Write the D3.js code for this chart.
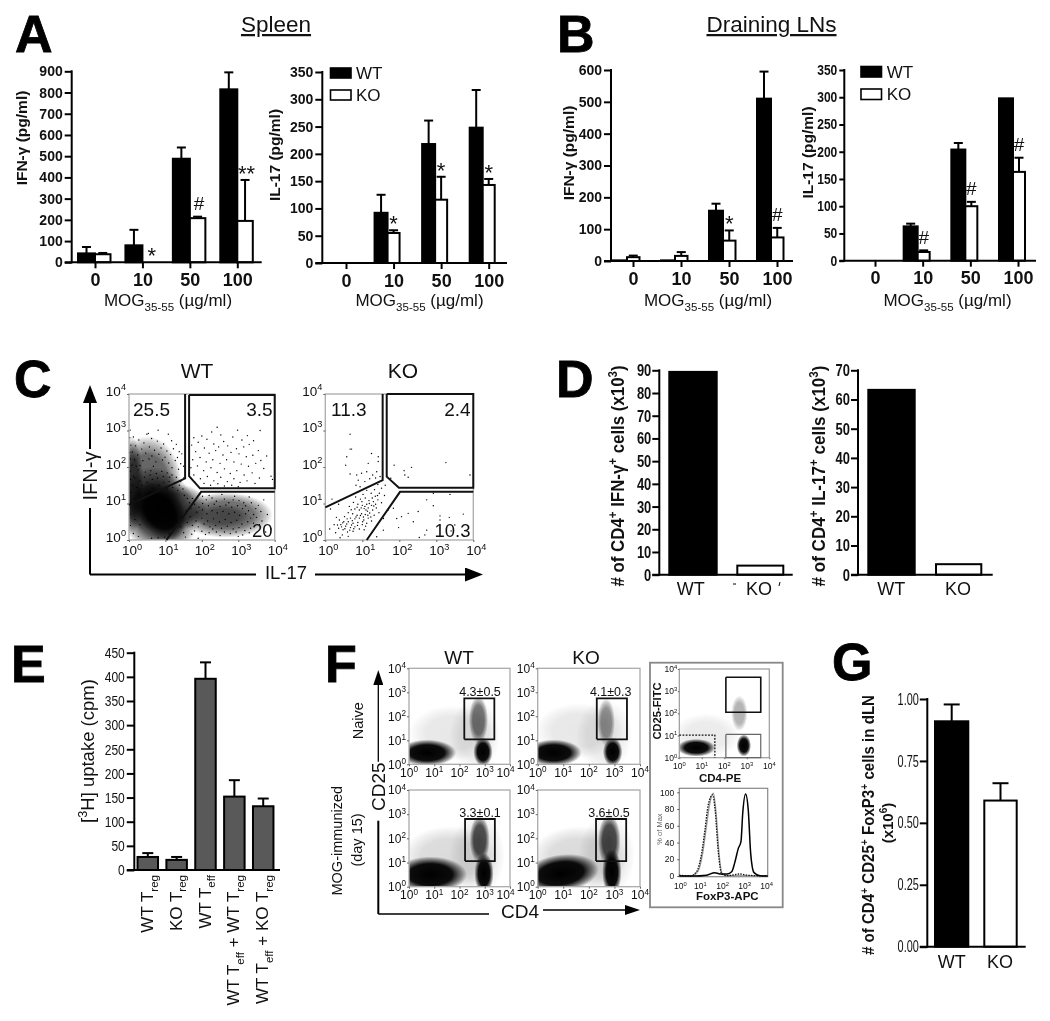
<!DOCTYPE html>
<html><head><meta charset="utf-8">
<script src="https://cdnjs.cloudflare.com/ajax/libs/d3/7.8.5/d3.min.js"></script>
<style>
html,body{margin:0;padding:0;background:#fff}
svg{display:block;filter:blur(0.35px)}
text{font-family:"Liberation Sans",Arial,sans-serif;fill:#111}
</style></head><body><div id="c"></div>
<script>
// ---- Values (estimates) ----
const doses = ['0','10','50','100'];
const spleenIfnWT = [42,80,488,815], spleenIfnWTTop = [72,153,541,895];
const spleenIfnKO = [38,0,208,195], spleenIfnKOTop = [44,0,215,388];
const spleenIfnMarks = ['','*','#','**'];
const spleenIl17WT = [0,92,218,248], spleenIl17WTTop = [0,125,261,317];
const spleenIl17KO = [0,55,116,143], spleenIl17KOTop = [0,60,158,154];
const spleenIl17Marks = ['','*','*','*'];
const lnIfnWT = [2,2,158,510], lnIfnWTTop = [2,2,180,595];
const lnIfnKO = [12,16,64,74], lnIfnKOTop = [17,28,96,104];
const lnIfnMarks = ['','','*','#'];
const lnIl17WT = [0,63,204,298], lnIl17WTTop = [0,68,216,298];
const lnIl17KO = [0,16,100,163], lnIl17KOTop = [0,19,108,189];
const lnIl17Marks = ['','#','#','#'];

const genotypes = ['WT','KO'];
const dIfnCells = [89.3,4], dIl17Cells = [63.3,3.6];
const gCells = [0.91,0.59], gCellsTop = [0.978,0.66];

const eGroups = [[['WT T'],['reg','sub']],[['KO T'],['reg','sub']],[['WT T'],['eff','sub']],[['WT T'],['eff','sub'],[' + WT T'],['reg','sub']],[['WT T'],['eff','sub'],[' + KO T'],['reg','sub']]];
const eUptake = [27,21,396,152,132], eUptakeTop = [35,27,430,186,148];

const cWTPercent = ['25.5','3.5','20'], cKOPercent = ['11.3','2.4','10.3'];
const fPercent = ['4.3±0.5','4.1±0.3','3.3±0.1','3.6±0.5'];

// Flow plots: all positions in log10 decades (0-4), estimated by eye.
// The dense regions are shown as smooth density clouds: [x, y, rx, ry, alpha, rotationDeg];
// dots are individual events placed by hand, not a complete event list.
const cWTClouds = [[0.85,0.78,0.62,0.88,1,38],[0.8,0.8,1.05,1.25,0.72,30],[0.5,1.55,0.95,1.3,0.62,0],[0.05,1.5,0.35,1.35,0.6,0],[2.65,0.68,1.3,0.62,0.58,0],[2.55,0.65,0.8,0.33,0.35,0],[1.4,0.9,0.75,0.62,0.55,0]];
const cWTDots = [[.53,2.92],[.8,3.01],[.49,2.9],[1.08,2.9],[.03,3.01],[.12,2.82],[.27,2.74],[.41,2.66],[.62,2.78],[.78,2.71],[.95,2.63],[1.17,2.72],[1.3,2.62],[.18,2.58],[.35,2.49],[.56,2.55],[.7,2.46],[.88,2.52],[1.04,2.44],[1.22,2.5],[1.38,2.42],[.09,2.41],[.24,2.33],[.46,2.38],[.63,2.3],[.82,2.35],[.99,2.27],[1.14,2.34],[1.33,2.26],[1.45,2.36],[.15,2.2],[.38,2.17],[.55,2.22],[.74,2.14],[.92,2.19],[1.09,2.11],[1.27,2.18],[1.42,2.09],[.3,2.04],[.67,2.02],[1.18,1.98],[1.36,1.94],[1.5,2.02],
[2.42,3.09],[2.98,3.01],[3.6,3.0],[2.27,2.96],[2.52,2.88],[1.78,2.8],[2.0,2.85],[2.14,2.76],[2.6,2.7],[2.85,2.82],[3.1,2.74],[3.25,2.86],[3.42,2.72],[3.3,2.62],[2.33,2.63],[2.46,2.55],[1.72,2.6],[1.9,2.68],[2.07,2.52],[2.71,2.58],[2.95,2.5],[3.15,2.55],[3.55,2.45],[3.78,2.3],[1.83,2.42],[2.2,2.38],[2.38,2.45],[2.58,2.33],[2.8,2.4],[3.02,2.36],[3.22,2.28],[3.4,2.32],[3.62,2.18],[1.75,2.2],[1.95,2.26],[2.12,2.14],[2.3,2.2],[2.5,2.1],[2.68,2.2],[2.88,2.14],[3.08,2.08],[3.28,2.02],[3.48,2.1],[3.7,1.96],[1.7,1.98],[1.88,2.03],[2.05,1.9],[2.25,1.98],[2.42,1.85],[2.62,1.95],[2.78,1.82],[2.96,1.9],[3.16,1.78],[3.38,1.84],[3.58,1.7],[3.9,1.75],[3.94,1.66],[1.78,1.78],[1.96,1.68],[2.15,1.74],[2.33,1.62],[2.52,1.72],[2.7,1.6],[2.88,1.68],[3.05,1.58],[3.24,1.62],[3.46,1.55],[1.82,1.58],[2.06,1.55],[2.24,1.5],[2.44,1.54],[2.62,1.48],[2.82,1.5],[3.0,1.46],
[1.5,1.7],[1.42,1.6],[1.3,1.72],[1.18,1.78],[1.05,1.84],[.9,1.88],[.75,1.82],[.6,1.9],[.45,1.86],[.25,1.92],[.12,1.75],
[2.2,1.22],[2.55,1.25],[2.9,1.2],[3.3,1.18],[3.7,1.1],[3.15,1.02],[3.55,.95],[3.8,.7],[3.65,.52],[3.9,.3],[3.3,.2],[3.0,.1],[3.55,.1],[2.5,.12],[2.1,.15],[1.8,.25],[1.55,.08],[1.9,.05],[2.3,.3],[3.75,.22],
[2.02,1.2],[2.12,1.1],[2.28,1.15],[2.4,1.06],[2.62,1.12],[2.74,1.02],[2.86,1.1],[3.02,1.08],[3.2,.94],[3.36,1.02],[3.48,.86],[3.62,.78],[3.42,.7],[3.28,.8],[3.12,.86],[2.98,.94],[2.82,.9],[2.66,.96],[2.5,.92],[2.34,.98],[2.18,.94],[2.02,1.0],[1.92,.9],[1.8,.98],[1.7,.86],[1.86,.76],[2.02,.82],[2.14,.72],[2.28,.8],[2.42,.74],[2.58,.78],[2.74,.72],[2.9,.76],[3.04,.68],[3.2,.72],[3.34,.6],[3.5,.62],[3.58,.42],[3.42,.46],[3.26,.5],[3.1,.44],[2.96,.54],[2.8,.48],[2.64,.56],[2.48,.5],[2.32,.58],[2.16,.52],[2,.6],[1.84,.52],[1.68,.64],[1.6,.48],[1.74,.4],[1.9,.36],[2.06,.44],[2.22,.36],[2.38,.4],[2.54,.32],[2.7,.38],[2.86,.3],[3.02,.34],[3.18,.26],[3.34,.32],[2.62,.22],[2.78,.18],[2.94,.22],[2.4,.22],[2.2,.2],[2.0,.24],[1.72,.16],[1.5,.2],[1.42,.36],[3.12,.14],
[.04,1.02],[.16,1.12],[.28,1.24],[.42,1.16],[.55,1.3],[.68,1.42],[.82,1.5],[.95,1.58],[1.1,1.6],[1.25,1.56],[1.38,1.5],[1.48,1.4],[1.34,1.36],[1.2,1.44],[1.04,1.4],[.88,1.34],[.72,1.26],[.04,1.3],[.1,1.5],[.22,1.44],[.36,1.5],[.5,1.58],[.64,1.66],[.78,1.7],[.94,1.74],[1.12,1.72],[.04,1.66],[.16,1.7],[.3,1.62],[.42,1.72],[.58,1.78],[.03,1.88],[.08,2.05],[.2,2.02],[.04,2.22],[.02,2.4],[.05,2.6],[.02,2.8],[.04,.4],[.02,.7],[.12,.18],[.26,.1],[.3,.42],[.16,.56],[1.1,.18],[1.24,.3],[.98,.08],[.8,.06],[.62,.05],[1.3,.5],[1.44,.62],[1.56,.8],[1.66,1.02],[1.74,1.14],[1.6,1.14],[1.52,1.22]];
const cKODots = [[.67,2.9],[.67,2.49],[.71,2.49],[.58,2.28],[.55,2.05],[1.25,2.37],[1.43,2.28],[1.43,2.15],[1.16,2.1],[.67,1.81],[.85,1.78],[.98,1.83],[1.12,1.87],[1.28,1.78],[1.39,1.87],[1.48,1.74],[.89,1.64],[1.07,1.6],[.83,1.5],[.94,1.46],[1.2,1.68],[1.36,1.7],
[1.86,2.05],[2.33,1.99],[2.13,1.9],[2.24,1.72],[2.15,1.78],[3.26,2.12],[3.91,1.78],[1.77,1.69],
[2.74,1.1],[2.92,1.28],[3.37,1.25],[2.92,.94],[2.51,.78],[2.24,.73],[1.93,.59],[2.06,.64],[1.57,.59],[1.7,.82],[1.84,.87],[3.1,.66],[3.73,.71],[3.5,.41],[2.74,.27],[2.69,.14],[2.54,.07],[1.57,.27],[1.39,.09],[3.1,.55],[3.4,.25],[2.38,.5],[3.35,.62],[1.98,.34],[.18,1.12],[.36,.98],[.14,.85],
[1.62,1.5],[1.52,1.42],[1.42,1.52],[1.33,1.38],[1.22,1.47],[1.46,1.28],[1.6,1.22],[1.35,1.2],[1.24,1.28],[1.12,1.36],[1.02,1.25],[.9,1.32],[.82,1.18],[.95,1.12],[1.08,1.15],[1.18,1.08],[1.3,1.05],[1.42,1.1],[1.52,1.02],[1.25,.95],[1.12,.98],[1.0,.95],[.88,.98],[.76,1.03],[.65,.92],[.8,.85],[.92,.82],[1.05,.86],[1.16,.88],[1.28,.82],[1.38,.88],[1.45,.75],[1.32,.68],[1.2,.74],[1.08,.7],[.98,.72],[.86,.68],[.74,.72],[.62,.75],[.52,.64],[.68,.6],[.8,.58],[.92,.6],[1.04,.55],[1.16,.6],[1.25,.52],[1.12,.46],[1.0,.42],[.88,.48],[.75,.46],[.62,.5],[.5,.5],[.38,.55],[.42,.42],[.55,.38],[.68,.34],[.8,.36],[.92,.3],[1.05,.28],[.75,.24],[.6,.22],[.48,.28],[.36,.32],[.28,.2],[.46,.14],[.62,.1],[.24,.42],[.3,.62],[.12,.3],[.4,.06],
[1.14,.79],[1.03,.63],[.95,.67],[1.1,.82],[1.23,.63],[1.07,.92],[1.19,1.0],[.97,.88],[1.31,.93],[.83,.63],[.71,.41],[.58,.44],[.66,.27],[.53,.31],[.77,.31],[.44,.36],[.87,.4],[1.01,.5],[1.09,.38],[1.15,.68],[1.36,.98],[1.27,1.15],[1.41,1.22],[.99,1.05],[.86,.9],[.7,.83],[.59,.58],[.47,.47],[.33,.41],[.73,.53]];

const fClouds = [
 [[1.7,1.3,1.7,1.15,0.09,0],[.72,.48,1.15,.55,1,0],[2.93,.52,.38,.6,1,0],[2.75,1.85,.38,1.0,.55,0],[2.6,1.2,1.0,1.5,.08,0]],
 [[1.6,1.4,1.7,1.15,0.09,0],[.62,.48,1.1,.55,1,0],[2.93,.52,.38,.6,1,0],[2.68,1.75,.34,1.0,.42,0],[2.6,1.2,1.1,1.5,.08,0]],
 [[1.6,1.2,1.9,1.3,0.14,0],[.85,.5,1.45,.75,1,0],[2.97,.55,.38,.85,1,0],[2.8,1.95,.4,1.0,.7,0],[2.7,1.3,1.1,1.7,.09,0]],
 [[1.6,1.2,1.9,1.3,0.14,0],[.9,.55,1.5,.78,1,8],[2.9,.6,.38,.95,1,0],[2.8,1.9,.44,1.1,.72,0],[2.7,1.3,1.1,1.7,.09,0]]
];
const fGates = [[2.19,3.38,1.04,2.75],[2.31,3.49,1.04,2.75],[2.22,3.4,1.06,2.8],[2.28,3.46,1.06,2.8]];
const insetClouds = [[1.2,1.0,1.5,1.0,.08,0],[.75,.45,.85,.4,1,0],[2.87,.55,.32,.5,1,0],[2.67,2.0,.36,.8,.3,0]];

// Histogram traces: [log10 FoxP3, % of max]
const histSolid = [[0,0],[.63,0],[1.24,1],[1.6,4],[1.84,2.4],[2.17,2.4],[2.37,5],[2.52,17],[2.67,33],[2.79,41],[2.87,75],[3,98],[3.12,79],[3.23,27],[3.38,4],[3.65,.4],[4,0]];
const histDotted = [[0,1],[.48,0],[.78,5],[1.01,27],[1.16,55],[1.31,85],[1.51,97],[1.62,79],[1.77,27],[1.92,2.4],[2.17,.4],[2.75,2.4],[3.05,1],[4,0]];
const histGray = [[0,.5],[.55,0],[.85,6],[1.06,28],[1.22,58],[1.36,84],[1.54,99],[1.66,76],[1.8,26],[1.96,2],[2.3,.3],[4,0]];

// ---- Drawing ----
const W=1050,H=1021;
const svg=d3.select('#c').append('svg').attr('width',W).attr('height',H).attr('viewBox',`0 0 ${W} ${H}`);
const defs=svg.append('defs');
const g0=defs.append('radialGradient').attr('id','cloud');
[[0,1],[.6,.95],[.85,.4],[1,0]].forEach(s=>g0.append('stop').attr('offset',s[0]).attr('stop-color','#000').attr('stop-opacity',s[1]));
const mk=defs.append('marker').attr('id','arr').attr('markerUnits','userSpaceOnUse').attr('markerWidth',18).attr('markerHeight',14).attr('refX',0).attr('refY',7).attr('orient','auto');
mk.append('path').attr('d','M0,0L18,7L0,14Z').attr('fill','#000');
const mk2=defs.append('marker').attr('id','arr2').attr('markerUnits','userSpaceOnUse').attr('markerWidth',15).attr('markerHeight',10).attr('refX',0).attr('refY',5).attr('orient','auto');
mk2.append('path').attr('d','M0,0L15,5L0,10Z').attr('fill','#000');

function rich(sel,parts,size){
  let prev=0;
  parts.forEach(p=>{
    const kind=p[1], shift=kind==='sub'?size*.28:kind==='sup'?-size*.38:0;
    sel.append('tspan').text(p[0]).attr('dy',shift-prev).attr('font-size',kind?size*.68:size);
    prev=shift;
  });
}
function label(x,y,t,o={}){
  const s=svg.append('text').attr('x',x).attr('y',y).attr('font-size',o.size||16)
   .attr('text-anchor',o.anchor||'middle').attr('font-weight',o.bold?'bold':'normal');
  if(o.fill)s.style('fill',o.fill);
  if(o.rot)s.attr('transform',`rotate(${o.rot} ${x} ${y})`);
  if(Array.isArray(t))rich(s,t,o.size||16);else s.text(t);
  if(o.len)s.attr('textLength',o.len).attr('lengthAdjust','spacingAndGlyphs');
  return s;
}
function styleAxis(g,o){
  g.selectAll('.domain').remove();
  g.selectAll('line').attr('stroke','#000').attr('stroke-width',o.w||2);
  g.selectAll('text').attr('font-size',o.size).attr('font-weight',o.bold?'bold':'normal').attr('fill','#111');
  if(o.cw)g.selectAll('text').each(function(){
    const t=d3.select(this);
    t.attr('textLength',o.cw*t.text().length).attr('lengthAdjust','spacingAndGlyphs');
  });
}
function yAxis(scale,x,step,o){
  const max=scale.domain()[1];
  const ax=d3.axisLeft(scale).tickValues(d3.range(0,max+step/2,step)).tickSize(o.tick||7).tickPadding(o.pad||2);
  ax.tickFormat(o.fmt||d3.format('d'));
  const g=svg.append('g').attr('transform',`translate(${x},0)`).call(ax);
  styleAxis(g,o);
  svg.append('line').attr('x1',x).attr('x2',x).attr('y1',scale.range()[1]-1).attr('y2',scale.range()[0]+1).attr('stroke','#000').attr('stroke-width',2);
}
function baseline(x1,x2,y){svg.append('line').attr('x1',x1).attr('x2',x2).attr('y1',y).attr('y2',y).attr('stroke','#000').attr('stroke-width',2);}
function errBars(items){
  items.forEach(d=>{
    if(d.top<=d.val)return;
    svg.append('line').attr('x1',d.x).attr('x2',d.x).attr('y1',d.y(d.val)).attr('y2',d.y(d.top)).attr('stroke','#000').attr('stroke-width',2);
    svg.append('line').attr('x1',d.x-d.cap).attr('x2',d.x+d.cap).attr('y1',d.y(d.top)).attr('y2',d.y(d.top)).attr('stroke','#000').attr('stroke-width',2);
  });
}
function barRect(x0,x1,y,v,fill){
  if(v<=0)return;
  svg.append('rect').attr('x',x0).attr('width',x1-x0).attr('y',y(v)).attr('height',y(0)-y(v))
    .attr('fill',fill).attr('stroke','#000').attr('stroke-width',2);
}
function dosePanel(p){
  const y=d3.scaleLinear().domain([0,p.max]).range([p.y0,p.yTop]);
  const x=d3.scalePoint().domain(doses).range(p.ticks);
  doses.forEach((c,i)=>{
    errBars([{x:x(c)+(p.off[0]+p.off[1])/2,val:p.wt[i],top:p.wtTop[i],y,cap:4.5},{x:x(c)+(p.off[1]+p.off[2])/2,val:p.ko[i],top:p.koTop[i],y,cap:4.5}]);
    barRect(x(c)+p.off[0],x(c)+p.off[1],y,p.wt[i],'#000');
    barRect(x(c)+p.off[1],x(c)+p.off[2],y,p.ko[i],'#fff');
    const m=p.marks[i];
    if(m){const isH=m==='#';
      label(x(c)+(p.off[1]+p.off[2])/2+(p.mdx||0),y(p.koTop[i])-(isH?6.5:-1),m,{size:isH?19:22});}
  });
  yAxis(y,p.axisX,p.step,{size:p.ts||14,bold:true,tick:p.tick||7,cw:p.cw});
  baseline(p.axisX-(p.tick||7),p.end,p.y0);
  const gx=svg.append('g').attr('transform',`translate(0,${p.y0})`).call(d3.axisBottom(x).tickSize(6).tickPadding(5));
  styleAxis(gx,{size:18,bold:true});
  label(p.ylabX,p.ylabY,p.ylab,{size:15.5,bold:true,rot:-90});
  label(p.xlabX,306,[['MOG'],['35-55','sub'],[' (µg/ml)']],{size:17});
}
dosePanel({wt:spleenIfnWT,wtTop:spleenIfnWTTop,ko:spleenIfnKO,koTop:spleenIfnKOTop,marks:spleenIfnMarks,max:900,step:100,y0:262.3,yTop:71.3,ticks:[95,237.3],off:[-17,0,15.5],axisX:71.7,end:261.7,ylab:'IFN-γ (pg/ml)',ylabX:27,ylabY:138,xlabX:168,mdx:1.5});
dosePanel({wt:spleenIl17WT,wtTop:spleenIl17WTTop,ko:spleenIl17KO,koTop:spleenIl17KOTop,marks:spleenIl17Marks,max:350,step:50,y0:263,yTop:72,ticks:[346,488.7],off:[-19,-6,6],axisX:322.3,end:507,ylab:'IL-17 (pg/ml)',ylabX:280,ylabY:155,xlabX:419.5});
dosePanel({wt:lnIfnWT,wtTop:lnIfnWTTop,ko:lnIfnKO,koTop:lnIfnKOTop,marks:lnIfnMarks,max:600,step:100,y0:261,yTop:70,ticks:[633,777],off:[-20,-6,6.5],axisX:611,end:793,ylab:'IFN-γ (pg/ml)',ylabX:574,ylabY:153,xlabX:708});
dosePanel({wt:lnIl17WT,wtTop:lnIl17WTTop,ko:lnIl17KO,koTop:lnIl17KOTop,marks:lnIl17Marks,max:350,step:50,y0:260.7,yTop:70,ticks:[875,1018],off:[-19,-5,7],axisX:844.3,end:1036,ylab:'IL-17 (pg/ml)',ylabX:813,ylabY:152.5,xlabX:947.5,tick:5,cw:6.7});

function legend(x0,x1,yWT,yKO,h,tx){
  [[yWT,'#000','WT'],[yKO,'#fff','KO']].forEach(r=>{
    svg.append('rect').attr('x',x0).attr('y',r[0]).attr('width',x1-x0).attr('height',h).attr('fill',r[1]).attr('stroke','#000').attr('stroke-width',1.6);
    label(tx,r[0]+h+.5,r[2],{size:17,anchor:'start'});
  });
}
legend(330.5,351,68,90,10,356);
legend(861,881.5,66.5,89,10.5,886.7);

[['A',15,51.7],['B',557,51.7],['C',14,396.7],['D',556,396.7],['E',11,681.7],['F',325,681.7],['G',832,680]].forEach(d=>
  label(d[1],d[2],d[0],{size:52,bold:true,anchor:'start'}).style('fill','#000').attr('stroke','#000').attr('stroke-width',.8));
label(276,32,'Spleen',{size:22.5}).style('text-decoration','underline');
label(771.5,32,'Draining LNs',{size:22.5}).style('text-decoration','underline');

function flow(o){
  const x=d3.scaleLinear().domain([0,4]).range([o.x0,o.x1]);
  const y=d3.scaleLinear().domain([0,4]).range([o.y1,o.y0]);
  const id='clip'+Math.round(o.x0)+'_'+Math.round(o.y0);
  defs.append('clipPath').attr('id',id).append('rect').attr('x',o.x0).attr('y',o.y0).attr('width',o.x1-o.x0).attr('height',o.y1-o.y0);
  const g=svg.append('g').attr('clip-path',`url(#${id})`);
  g.selectAll('ellipse').data(o.clouds||[]).join('ellipse')
    .attr('cx',d=>x(d[0])).attr('cy',d=>y(d[1]))
    .attr('rx',d=>x(d[2])-x(0)).attr('ry',d=>y(0)-y(d[3]))
    .attr('fill','url(#cloud)').attr('fill-opacity',d=>d[4])
    .attr('transform',d=>`rotate(${-d[5]} ${x(d[0])} ${y(d[1])})`);
  g.selectAll('circle').data(o.dots||[]).join('circle')
    .attr('cx',d=>x(d[0])).attr('cy',d=>y(d[1])).attr('r',o.r||.75).attr('fill','#000');
  svg.append('rect').attr('x',o.x0).attr('y',o.y0).attr('width',o.x1-o.x0).attr('height',o.y1-o.y0)
    .attr('fill','none').attr('stroke',o.frame||'#aaa').attr('stroke-width',o.fw||1.3);
  const ticks=[0,1,2,3,4], s=o.fs;
  const gx=svg.append('g').attr('transform',`translate(0,${o.y1})`).call(d3.axisBottom(x).tickValues(ticks).tickSize(o.tk||2).tickFormat(''));
  const gy=svg.append('g').attr('transform',`translate(${o.x0},0)`).call(d3.axisLeft(y).tickValues(ticks).tickSize(o.tk||2).tickFormat(''));
  [gx,gy].forEach(a=>{a.selectAll('.domain').remove();a.selectAll('line').attr('stroke','#666');});
  ticks.forEach(t=>{
    label(x(t)+(o.xdx||0)+(t===4?(o.lastDx||0):0),o.y1+o.xlab,[['10'],[String(t),'sup']],{size:s,fill:o.tfill});
    label(o.x0-(o.ylab||3),y(t)+(o.ydy!==undefined?o.ydy:s*.36),[['10'],[String(t),'sup']],{size:s,anchor:'end',fill:o.tfill});
  });
  return {x,y};
}
function gate(s,pts,st={}){
  const line=d3.line().x(d=>s.x(d[0])).y(d=>s.y(d[1]));
  svg.append('path').attr('d',line(pts)).attr('fill','none').attr('stroke',st.c||'#111').attr('stroke-width',st.w||2).attr('stroke-dasharray',st.dash||null);
}
// panel C
const cW=flow({x0:129,x1:274.7,y0:394,y1:540,clouds:cWTClouds,dots:cWTDots,fs:13.5,xlab:15,xdx:3,ydy:1.5,r:.7});
const cK=flow({x0:325.3,x1:473.3,y0:394,y1:540,dots:cKODots,fs:13.5,xlab:15,xdx:3,ydy:1.5,r:.7});
const gatesC={
 WT:[[[0,.96],[1.54,1.69],[1.54,4]],[[1.65,3.97],[4,3.97],[4,1.415],[1.95,1.415],[1.65,1.75],[1.65,3.97]],[[4,1.32],[1.98,1.32],[1.03,0]]],
 KO:[[[0,.895],[1.55,1.64],[1.55,4]],[[1.66,4],[4,4],[4,1.43],[1.99,1.43],[1.66,1.735],[1.66,4]],[[4,1.32],[2.02,1.32],[1.12,0]]]
};
gatesC.WT.forEach(g=>gate(cW,g));gatesC.KO.forEach(g=>gate(cK,g));
label(133,416,cWTPercent[0],{size:19,anchor:'start'});label(272.7,416,cWTPercent[1],{size:19,anchor:'end'});label(272.5,537,cWTPercent[2],{size:18.5,anchor:'end'});
label(331,416,cKOPercent[0],{size:19,anchor:'start'});label(470.7,416,cKOPercent[1],{size:19,anchor:'end'});label(470.5,537,cKOPercent[2],{size:18.5,anchor:'end'});
label(197,378,'WT',{size:21});label(403,378,'KO',{size:21});
function seg(x1,y1,x2,y2,w=2,head=null){
  const l=svg.append('line').attr('x1',x1).attr('y1',y1).attr('x2',x2).attr('y2',y2).attr('stroke','#000').attr('stroke-width',w);
  if(head)l.attr('marker-end',`url(#${head})`);
}
seg(90,449,90,403,2,'arr');seg(90,508,90,574.5);seg(90,574.5,256,574.5);seg(315,574.5,465,574.5,2,'arr');
label(96.5,476,'IFN-γ',{size:20,rot:-90});label(286,579,'IL-17',{size:18.5});

// panels D, G single bars
function singleBars(o){
  const y=d3.scaleLinear().domain([0,o.max]).range([o.y0,o.yTop]);
  genotypes.forEach((g,i)=>{barRect(o.bars[i][0],o.bars[i][1],y,o.vals[i],i?'#fff':'#000');});
  yAxis(y,o.axisX,o.step,{size:o.ts,bold:!!o.bold,tick:o.tick||7,pad:1,fmt:o.fmt,cw:o.cw});
  baseline(o.axisX-(o.tick||7),o.end,o.y0);
  genotypes.forEach((g,i)=>label(o.lab[i],o.labY,g,{size:18}));
  return y;
}
singleBars({vals:dIfnCells,max:90,step:10,y0:574.7,yTop:370.3,axisX:659.3,end:792.7,bars:[[669.3,716.7],[737.3,783.3]],lab:[690.7,759],labY:595,ts:17,bold:true,cw:7.2});
singleBars({vals:dIl17Cells,max:70,step:10,y0:574.7,yTop:370.3,axisX:858,end:992.7,bars:[[868.3,914.7],[936,981.3]],lab:[891.3,958],labY:595,ts:17,bold:true,cw:7.2});
label(624,476,[['# of CD4'],['+','sup'],[' IFN-γ'],['+','sup'],[' cells (x10'],['3','sup'],[')']],{size:17.5,bold:true,rot:-90,len:221});
label(825,476,[['# of CD4'],['+','sup'],[' IL-17'],['+','sup'],[' cells (x10'],['3','sup'],[')']],{size:17.5,bold:true,rot:-90,len:221});
seg(733,584,736,584,1);seg(780,582,779,586,1);

// panel E
{
  const y=d3.scaleLinear().domain([0,450]).range([870,652.7]);
  const x=d3.scaleBand().domain(d3.range(eUptake.length)).range([133.5,277.5]).paddingInner(.29).paddingOuter(.14);
  eUptake.forEach((v,i)=>{
    const cx=x(i)+x.bandwidth()/2;
    errBars([{x:cx,val:v,top:eUptakeTop[i],y,cap:5.5}]);
    barRect(x(i),x(i)+x.bandwidth(),y,v,'#595959');
    label(cx+5,875,eGroups[i],{size:17,rot:-90,anchor:'end'});
  });
  yAxis(y,134.3,50,{size:15,tick:7.5,pad:2,cw:6.7});
  baseline(126.8,280,870);
  label(94,751,[['['],['3','sup'],['H] uptake (cpm)']],{size:18.5,rot:-90});
}
// panel F
const fPos=[[409,510,668.3,764.3],[537.7,640,668.3,764.3],[409,510,790,886.7],[537.7,640,790,886.7]];
const fAnn=[[480,696],[610.7,696],[480,817.3],[609,817.3]];
fPos.forEach((p,i)=>{
  const s=flow({x0:p[0],x1:p[1],y0:p[2],y1:p[3],clouds:fClouds[i],fs:12,xlab:12.4,ylab:3,lastDx:i%2?0:-4.5});
  const g=fGates[i];
  gate(s,[[g[0],g[2]],[g[1],g[2]],[g[1],g[3]],[g[0],g[3]],[g[0],g[2]]],{w:1.8});
  label(fAnn[i][0],fAnn[i][1],fPercent[i],{size:12.5});
});
label(459,664,'WT',{size:19});label(586,664,'KO',{size:19});
label(363,720.7,'Naive',{size:14.5,rot:-90});
label(342,840.7,'MOG-immunized',{size:14.5,rot:-90});
label(362,840,'(day 15)',{size:14.5,rot:-90});
seg(378.3,761.7,378.3,685,1.3,'arr2');seg(378.3,820.7,378.3,914);seg(378.3,914,489,914,1.3);seg(543,910,625,910,1.3,'arr2');
label(385,786.7,'CD25',{size:19,rot:-90});label(520,918,'CD4',{size:19});
// inset
svg.append('rect').attr('x',650).attr('y',662.7).attr('width',132.7).attr('height',244.6).attr('fill','none').attr('stroke','#888').attr('stroke-width',1.8);
{
  const s=flow({x0:679.3,x1:769.3,y0:669,y1:757.7,clouds:insetClouds,fs:8.5,xlab:11.5,ylab:2,frame:'#999',fw:1.2,tk:1.5});
  gate(s,[[2.07,3.63],[3.62,3.63],[3.62,2.05],[2.07,2.05],[2.07,3.63]],{w:1.6});
  gate(s,[[2.07,1.05],[3.62,1.05],[3.62,0],[2.07,0],[2.07,1.05]],{w:1.2,c:'#666'});
  gate(s,[[0,1.02],[1.58,1.02],[1.58,0]],{w:1.3,dash:'1.8 1.4'});
  label(661,711,'CD25-FITC',{size:11.5,bold:true,rot:-90,len:57});
  label(720,782,'CD4-PE',{size:11.5,bold:true});
  const hx=d3.scaleLinear().domain([0,4]).range([679.3,767.7]);
  const hy=d3.scaleLinear().domain([0,100]).range([876,792.3]);
  svg.append('rect').attr('x',679.3).attr('y',788.3).attr('width',88.4).attr('height',88.4).attr('fill','none').attr('stroke','#888').attr('stroke-width',1.2);
  const ln=d3.line().x(d=>hx(d[0])).y(d=>hy(d[1])).curve(d3.curveMonotoneX);
  svg.append('path').attr('d',ln(histGray)).attr('fill','none').attr('stroke','#999').attr('stroke-width',1.4);
  svg.append('path').attr('d',ln(histDotted)).attr('fill','none').attr('stroke','#111').attr('stroke-width',1.3).attr('stroke-dasharray','1.5 1.2');
  svg.append('path').attr('d',ln(histSolid)).attr('fill','none').attr('stroke','#000').attr('stroke-width',1.5);
  const ga=svg.append('g').attr('transform','translate(679.3,0)').call(d3.axisLeft(hy).tickValues(d3.range(0,101,20)).tickSize(2).tickPadding(3));
  ga.selectAll('.domain').remove();ga.selectAll('line').attr('stroke','#555');
  ga.selectAll('text').attr('font-size',8.5).attr('fill','#222');
  d3.range(0,5).forEach(t=>label(hx(t)+(t===0?1:-1),889,[['10'],[String(t),'sup']],{size:8.5}));
  label(662,829,'% of Max',{size:7.5,rot:-90,fill:'#666'});
  label(727.3,899.5,'FoxP3-APC',{size:11.5,bold:true});
}
// panel G
{
  const y=singleBars({vals:gCells,max:1,step:.25,y0:946.7,yTop:699,axisX:927.3,end:1025.7,bars:[[935,968.3],[984.3,1016.7]],lab:[951.7,1000],labY:968,ts:16,tick:7.5,fmt:d3.format('.2f'),cw:5.3});
  errBars([{x:951.7,val:gCells[0],top:gCellsTop[0],y,cap:8},{x:1000.5,val:gCells[1],top:gCellsTop[1],y,cap:8}]);
  label(874,825,[['# of CD4'],['+','sup'],[' CD25'],['+','sup'],[' FoxP3'],['+','sup'],[' cells in dLN']],{size:16.5,bold:true,rot:-90,len:260});
  label(893,823,[['(x10'],['6','sup'],[')']],{size:15,bold:true,rot:-90});
}
</script></body></html>
